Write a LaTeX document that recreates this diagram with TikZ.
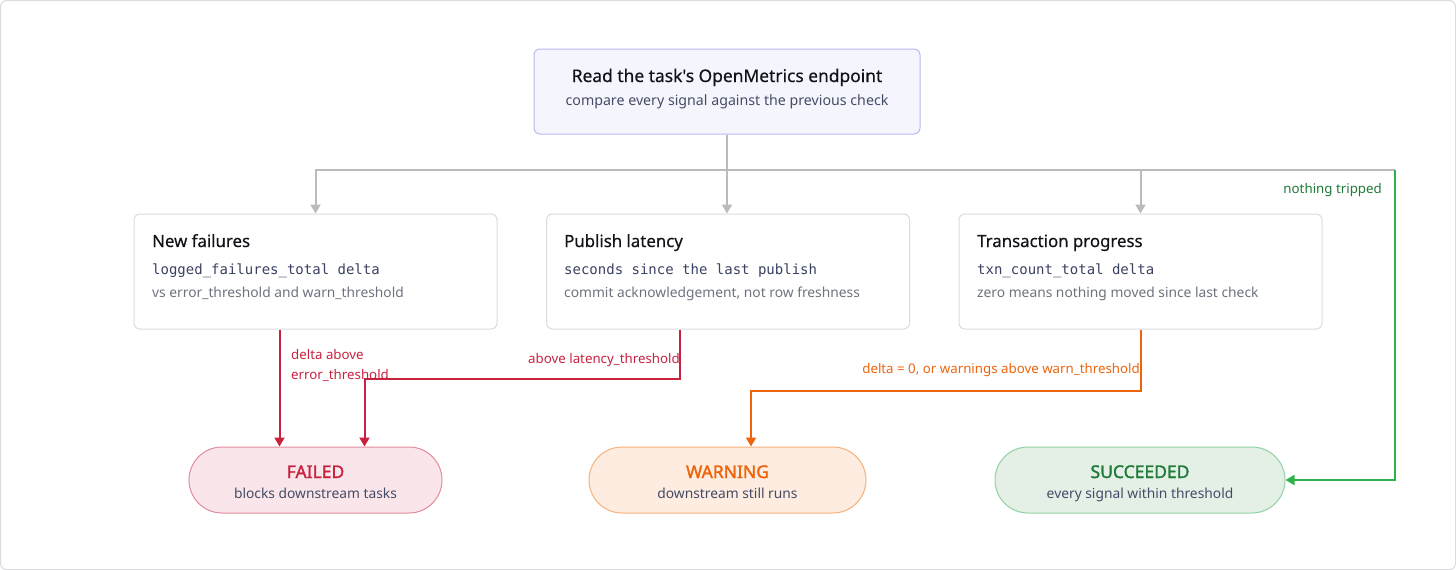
\documentclass[tikz,border=0pt]{standalone}
\usepackage{fontspec}
\setmainfont{Noto Sans}
\newfontfamily\monof{DejaVu Sans Mono}
\newfontfamily\medf{Noto Sans}[FakeBold=0.4]
\newfontfamily\boldf{Noto Sans}[FakeBold=1.6]
\usetikzlibrary{arrows.meta}
\definecolor{frame}{HTML}{DCDCE0}
\definecolor{topfill}{HTML}{F5F6FD}
\definecolor{topdraw}{HTML}{B9BAF2}
\definecolor{boxdraw}{HTML}{DADCE0}
\definecolor{ink}{HTML}{111318}
\definecolor{slate}{HTML}{454B66}
\definecolor{monoc}{HTML}{3A4262}
\definecolor{subg}{HTML}{6E737F}
\definecolor{lgray}{HTML}{BBBBBB}
\definecolor{redc}{HTML}{C8223F}
\definecolor{redfill}{HTML}{FAE6EA}
\definecolor{reddraw}{HTML}{E08C9C}
\definecolor{orc}{HTML}{EE640C}
\definecolor{orfill}{HTML}{FDECDF}
\definecolor{ordraw}{HTML}{F5B27E}
\definecolor{grc}{HTML}{2DB34A}
\definecolor{grtext}{HTML}{1E7A38}
\definecolor{grfill}{HTML}{E4F0E6}
\definecolor{grdraw}{HTML}{92D2A2}
\tikzset{
  topbox/.style={draw=topdraw, fill=topfill, line width=1pt, rounded corners=6pt, minimum width=386pt, minimum height=85pt, inner sep=0pt},
  midbox/.style={draw=boxdraw, fill=white, line width=1pt, rounded corners=6pt, minimum width=363pt, minimum height=115pt, inner sep=0pt},
  pill/.style={line width=1pt, rounded corners=33pt, minimum height=66pt, inner sep=0pt},
  ttl/.style={font=\medf\fontsize{16.8}{19}\selectfont, text=ink, inner sep=0pt, anchor=base west},
  sub/.style={font=\fontsize{13.8}{16}\selectfont, inner sep=0pt, anchor=base},
  mono/.style={font=\monof\fontsize{14}{17}\selectfont, text=monoc, inner sep=0pt, anchor=base west},
  lbl/.style={font=\fontsize{13.3}{16}\selectfont, inner sep=0pt},
  ptl/.style={font=\boldf\fontsize{17.5}{20}\selectfont, inner sep=0pt, anchor=base},
  grayarrow/.style={draw=lgray, line width=2pt, -{Triangle[length=9pt,width=10pt]}},
  redarrow/.style={draw=redc, line width=2pt, -{Triangle[length=9pt,width=10pt]}},
  orarrow/.style={draw=orc, line width=2pt, -{Triangle[length=9pt,width=10pt]}},
  grarrow/.style={draw=grc, line width=2pt, -{Triangle[length=9pt,width=10pt]}},
}
\begin{document}
\begin{tikzpicture}[x=1pt,y=-1pt]
\useasboundingbox (0,0) rectangle (1456,570);
\draw[draw=frame, line width=1pt, rounded corners=6pt, fill=white] (0.5,0.5) rectangle (1455.5,569.5);

% top box
\node[topbox] (read) at (727,91.5) {};
\node[ttl, anchor=base, font=\medf\fontsize{17.4}{20}\selectfont] (readt) at (727,82) {Read the task's OpenMetrics endpoint};
\node[sub, text=slate, font=\fontsize{14.2}{17}\selectfont] (reads) at (727,105) {compare every signal against the previous check};

% middle boxes
\node[midbox] (nf) at (315.5,271.5) {};
\node[midbox] (pl) at (728,271.5) {};
\node[midbox] (tp) at (1140.5,271.5) {};

\node[ttl] (nft) at (152,247) {New failures};
\node[mono] (nfm) at (152,274) {logged\_failures\_total delta};
\node[sub, text=subg, anchor=base west] (nfs) at (152,297) {vs error\_threshold and warn\_threshold};

\node[ttl] (plt) at (564,247) {Publish latency};
\node[mono] (plm) at (564,274) {seconds since the last publish};
\node[sub, text=subg, anchor=base west] (pls) at (564,297) {commit acknowledgement, not row freshness};

\node[ttl] (tpt) at (977,247) {Transaction progress};
\node[mono] (tpm) at (977,274) {txn\_count\_total delta};
\node[sub, text=subg, anchor=base west] (tps) at (977,297) {zero means nothing moved since last check};

% pills
\node[pill, draw=reddraw, fill=redfill, minimum width=253pt] (fail) at (315.5,480) {};
\node[pill, draw=ordraw, fill=orfill, minimum width=277pt] (warn) at (727.5,480) {};
\node[pill, draw=grdraw, fill=grfill, minimum width=290pt] (succ) at (1140,480) {};

\node[ptl, text=redc] (failt) at (315.5,478) {FAILED};
\node[sub, text=slate] (fails) at (315.5,498.5) {blocks downstream tasks};
\node[ptl, text=orc] (warnt) at (727.5,478) {WARNING};
\node[sub, text=slate] (warns) at (727.5,498.5) {downstream still runs};
\node[ptl, text=grtext] (succt) at (1140,478) {SUCCEEDED};
\node[sub, text=slate] (succs) at (1140,498.5) {every signal within threshold};

% gray fan-out
\coordinate (split) at (727,170);
\coordinate (gcorner) at (1395,170);
\draw[draw=lgray, line width=2pt] (read.south) -- (split);
\draw[grayarrow] (split) -| (nf.north);
\draw[grayarrow] (split) -- (pl.north -| split);
\draw[grayarrow] (split) -| (tp.north);
\draw[draw=lgray, line width=2pt] (split) -- (gcorner);

% green
\draw[grarrow] (gcorner) |- (succ.east);
\node[lbl, text=grtext, anchor=base east] (gl) at (1382,193) {nothing tripped};

% red
\draw[redarrow] ([xshift=-36pt]nf.south) -- ([xshift=-36pt]fail.north);
\draw[redarrow] ([xshift=-48pt]pl.south) -- ++(0,49) -| ([xshift=49pt]fail.north);
\node[lbl, text=redc, anchor=base west] (rl1) at (291,359) {delta above};
\node[lbl, text=redc, anchor=base west] (rl2) at (291,379.5) {error\_threshold};
\node[lbl, text=redc, anchor=base east] (rl3) at (680,363) {above latency\_threshold};

% orange
\draw[orarrow] (tp.south) -- ++(0,61) -| ([xshift=23.5pt]warn.north);
\node[lbl, text=orc, anchor=base east] (ol) at (1140,373) {delta = 0, or warnings above warn\_threshold};
\end{tikzpicture}
\end{document}
